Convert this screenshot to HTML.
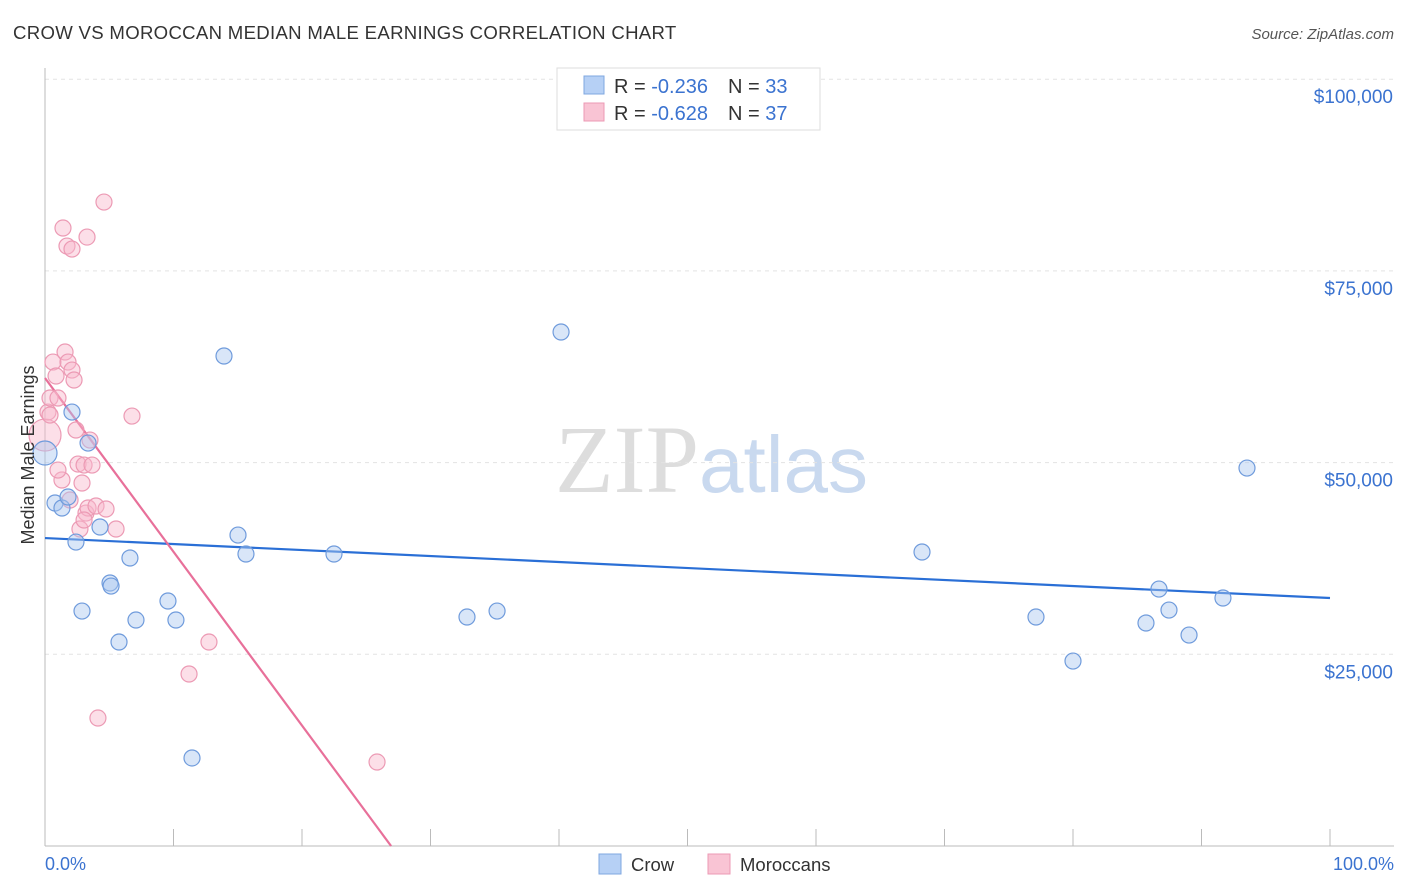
<!DOCTYPE html>
<html><head><meta charset="utf-8"><style>
body{margin:0;background:#fff;font-family:"Liberation Sans",sans-serif;}
svg{display:block}
</style></head><body>
<svg id="chart" width="1406" height="892" xmlns="http://www.w3.org/2000/svg" font-family="Liberation Sans, sans-serif">
<text x="13" y="39" font-size="18.6" fill="#333" letter-spacing="0.3">CROW VS MOROCCAN MEDIAN MALE EARNINGS CORRELATION CHART</text>
<text x="1394" y="39" font-size="15" fill="#555" text-anchor="end" font-style="italic">Source: ZipAtlas.com</text>
<text x="555" y="492" font-size="96" fill="#ddd" font-family="Liberation Serif, serif">ZIP<tspan fill="#c9d9ef" font-family="Liberation Sans, sans-serif" font-size="80">atlas</tspan></text>
<g id="grid"></g><g id="axes"></g><g id="trend"></g><g id="pts"></g>
<text transform="translate(34,455) rotate(-90)" font-size="18" fill="#333" text-anchor="middle">Median Male Earnings</text>
<text x="45" y="870" font-size="18" fill="#3b73d0">0.0%</text>
<text x="1394" y="870" font-size="18" fill="#3b73d0" text-anchor="end">100.0%</text>
<g>
<rect x="557" y="68" width="263" height="62" fill="#fff" stroke="#ddd"/>
<rect x="584" y="76" width="20" height="18" fill="#b6d0f5" stroke="#7fa7e0"/>
<rect x="584" y="103" width="20" height="18" fill="#f9c4d4" stroke="#ec9ab4"/>
<text x="614" y="93" font-size="20" fill="#333">R = <tspan fill="#3b73d0">-0.236</tspan><tspan dx="20">N = </tspan><tspan fill="#3b73d0">33</tspan></text>
<text x="614" y="120" font-size="20" fill="#333">R = <tspan fill="#3b73d0">-0.628</tspan><tspan dx="20">N = </tspan><tspan fill="#3b73d0">37</tspan></text>
</g>
<g><rect x="599" y="854" width="22" height="20" fill="#b6d0f5" stroke="#7fa7e0"/><text x="631" y="871" font-size="18.5" fill="#333">Crow</text></g>
<g><rect x="708" y="854" width="22" height="20" fill="#f9c4d4" stroke="#ec9ab4"/><text x="740" y="871" font-size="18.5" fill="#333">Moroccans</text></g>
</svg>
<script>
const crowX=[0,0.78,1.32,1.79,2.10,2.41,2.88,3.35,4.28,5.06,5.14,5.76,6.61,7.08,9.57,10.19,11.44,13.93,15.02,15.64,22.49,32.84,35.18,40.16,68.25,77.12,80.00,85.68,86.69,87.47,89.03,91.67,93.54];
const crowY=[51250,44730,44080,45510,56590,39640,30640,52550,41600,34300,33900,26600,37560,29470,31950,29470,11480,63900,40550,38080,38080,29860,30640,67030,38340,29860,24120,29080,33510,30770,27510,32340,49290];
const morX=[0,0.23,0.39,0.62,0.86,1.01,1.32,1.40,1.56,1.71,1.79,2.10,2.10,2.26,2.41,2.57,2.72,2.88,3.04,3.19,3.27,3.35,3.50,3.66,3.97,4.12,4.59,4.75,5.53,6.77,11.21,12.76,25.84,0.39,1.01,1.95,3.04];
const morY=[53590,56590,58420,63110,61290,58420,47730,80590,64420,78240,63110,77850,62070,60770,54250,49810,41340,47340,49680,43420,79410,44080,52940,49680,44340,16690,83980,43950,41340,56070,22430,26600,10950,56200,49030,45120,42510];
const yTicks=[25000,50000,75000,100000];
const yTickLabels=["$25,000","$50,000","$75,000","$100,000"];
const xTicks=[0,10,20,30,40,50,60,70,80,90,100];
const crowTrend=[40160,32340];
const morTrend=[61030,-2266];
const NS="http://www.w3.org/2000/svg";
const sx=v=>45+v*12.85, sy=v=>846-v/25000*191.7;
function mk(t,a,p){const e=document.createElementNS(NS,t);for(const k in a)e.setAttribute(k,a[k]);document.getElementById(p).appendChild(e);return e;}
yTicks.forEach((t,i)=>{
 const g=mk('line',{x1:45,x2:1394,y1:sy(t),y2:sy(t),stroke:'#e3e3e3','stroke-dasharray':'4,4'},'grid');
 
 
 const l=mk('text',{x:1393,y:sy(t)+24,'font-size':19,fill:'#3b73d0','text-anchor':'end'},'axes');
 l.textContent=yTickLabels[i];
 
 
});
const ya=mk('line',{x1:45,x2:45,y1:68,y2:846,stroke:'#bbb'},'axes');


const xa=mk('line',{x1:45,x2:1394,y1:846,y2:846,stroke:'#bbb'},'axes');


xTicks.forEach(t=>{const k=mk('line',{x1:sx(t),x2:sx(t),y1:829,y2:846,stroke:'#bbb'},'axes');
 
 });
const bt=mk('line',{x1:sx(0),y1:sy(crowTrend[0]),x2:sx(100),y2:sy(crowTrend[1]),stroke:'#2a6fd6','stroke-width':2.2},'trend');


const xe=-morTrend[0]/morTrend[1];
const pt=mk('line',{x1:sx(0),y1:sy(morTrend[0]),x2:sx(xe),y2:sy(0),stroke:'#e8709a','stroke-width':2.2},'trend');


morX.forEach((x,i)=>{const c=mk('circle',{cx:sx(x),cy:sy(morY[i]),r:i==0?16:8,fill:'rgba(248,183,204,0.45)',stroke:'#ec9ab4','stroke-width':1.2},'pts');
 
 });
crowX.forEach((x,i)=>{const c=mk('circle',{cx:sx(x),cy:sy(crowY[i]),r:i==0?12:8,fill:'rgba(170,199,240,0.45)',stroke:'#6f9bdc','stroke-width':1.2},'pts');
 
 });
</script>
</body></html>
